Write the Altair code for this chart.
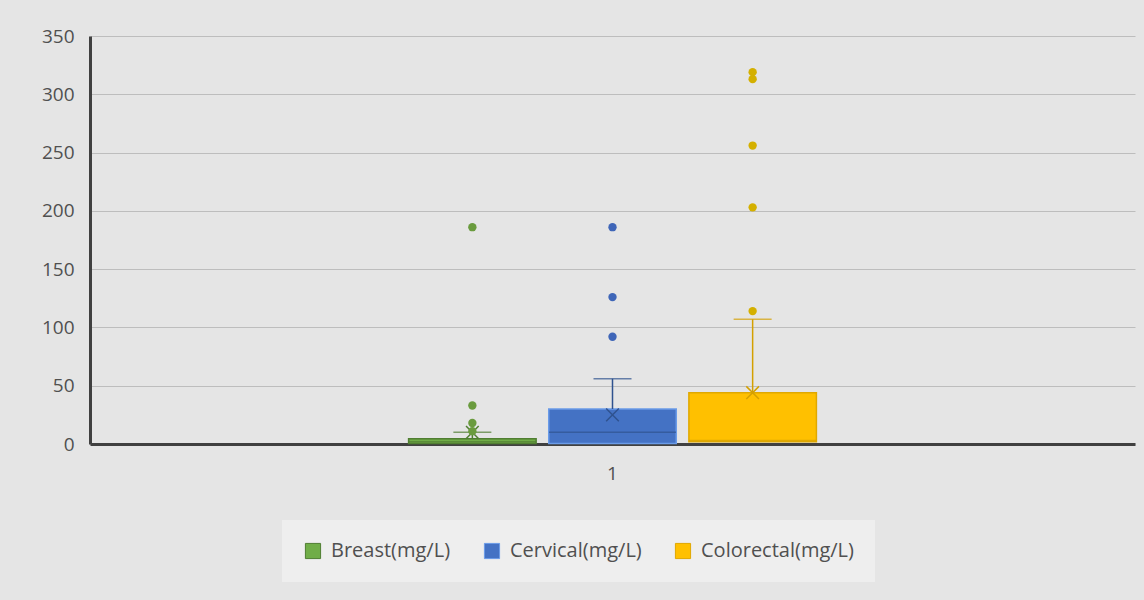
import altair as alt
import pandas as pd

series = ["Breast(mg/L)", "Cervical(mg/L)", "Colorectal(mg/L)"]
group = ["1", "1", "1"]
q1 = [0.5, 0.5, 2]
median = [2, 10, 3]
q3 = [4.5, 30, 44]
whisker_hi = [10, 56, 107]
means = [10, 25, 44]

out_series = ["Breast(mg/L)"] * 4 + ["Cervical(mg/L)"] * 3 + ["Colorectal(mg/L)"] * 5
out_values = [186, 33, 18, 11, 186, 126, 92, 319, 313, 256, 203, 114]

fill_colors = ["#70AD47", "#4472C4", "#FFC000"]
edge_colors = ["#507E32", "#6A9BE8", "#E0A800"]
line_colors = ["#507E32", "#2F528F", "#D4A000"]
dot_colors = ["#6A9B3E", "#3F66B8", "#D4B000"]

box = pd.DataFrame({"grp": group, "series": series, "q1": q1, "median": median,
                    "q3": q3, "hi": whisker_hi, "mean": means})
outl = pd.DataFrame({"grp": ["1"] * len(out_values), "series": out_series, "value": out_values})

FONT = "Open Sans"
x_enc = alt.X("grp:N", title=None,
              scale=alt.Scale(paddingInner=0.36, paddingOuter=0.5),
              axis=alt.Axis(labelAngle=0, ticks=False, labelPadding=20, domainWidth=3,
                            domainColor="#404040", labelFontSize=19, labelColor="#505050",
                            labelFont=FONT, grid=False))
xo_enc = alt.XOffset("series:N", scale=alt.Scale(domain=series, paddingInner=0.09, paddingOuter=0))
y_scale = alt.Scale(domain=[0, 350], nice=False, zero=True)
y_axis = alt.Axis(values=[0, 50, 100, 150, 200, 250, 300, 350], ticks=False, labelPadding=16,
                  domainWidth=3, domainColor="#404040", gridColor="#bdbdbd", gridWidth=1,
                  labelFontSize=19, labelColor="#505050", labelFont=FONT, title=None)

def sc(colors):
    return alt.Scale(domain=series, range=colors)

boxes = alt.Chart(box).mark_bar(strokeWidth=1.5).encode(
    x=x_enc, xOffset=xo_enc,
    y=alt.Y("q1:Q", scale=y_scale, axis=y_axis), y2="q3:Q",
    fill=alt.Fill("series:N", scale=sc(fill_colors),
                  legend=alt.Legend(title=None, orient="none", legendX=192, legendY=484,
                                    direction="horizontal", fillColor="#eeeeee", padding=21,
                                    labelFontSize=20, labelColor="#505050", labelFont=FONT,
                                    symbolType="square", symbolSize=230, symbolStrokeWidth=1,
                                    symbolStrokeColor="#606060", columnPadding=31, labelOffset=8)),
    stroke=alt.Stroke("series:N", scale=sc(edge_colors), legend=None),
)

med = alt.Chart(box).mark_tick(size=127, thickness=1.5).encode(
    x=x_enc, xOffset=xo_enc, y=alt.Y("median:Q", scale=y_scale),
    color=alt.Color("series:N", scale=sc(line_colors), legend=None),
)

whisk = alt.Chart(box).mark_rule(strokeWidth=1.5).encode(
    x=x_enc, xOffset=xo_enc, y=alt.Y("q3:Q", scale=y_scale), y2="hi:Q",
    color=alt.Color("series:N", scale=sc(line_colors), legend=None),
)

cap = alt.Chart(box).mark_tick(size=38, thickness=1.5).encode(
    x=x_enc, xOffset=xo_enc, y=alt.Y("hi:Q", scale=y_scale),
    color=alt.Color("series:N", scale=sc(line_colors), legend=None),
)

mean_mk = alt.Chart(box).mark_point(shape="M-1,-1L1,1M-1,1L1,-1", size=160, strokeWidth=1.5,
                                    filled=False, opacity=1).encode(
    x=x_enc, xOffset=xo_enc, y=alt.Y("mean:Q", scale=y_scale),
    color=alt.Color("series:N", scale=sc(line_colors), legend=None),
)

dots = alt.Chart(outl).mark_circle(size=70, opacity=1).encode(
    x=x_enc, xOffset=xo_enc, y=alt.Y("value:Q", scale=y_scale),
    color=alt.Color("series:N", scale=sc(dot_colors), legend=None),
)

chart = alt.layer(boxes, med, whisk, cap, mean_mk, dots).resolve_scale(
    color="independent", fill="independent", stroke="independent"
).properties(
    width=1045, height=408,
    autosize=alt.AutoSizeParams(type="none"),
    padding={"left": 90, "top": 36, "right": 9, "bottom": 156},
    background="#e5e5e5",
).configure_view(stroke=None)

chart.save("out.html", embed_options={"renderer": "svg", "actions": False})
